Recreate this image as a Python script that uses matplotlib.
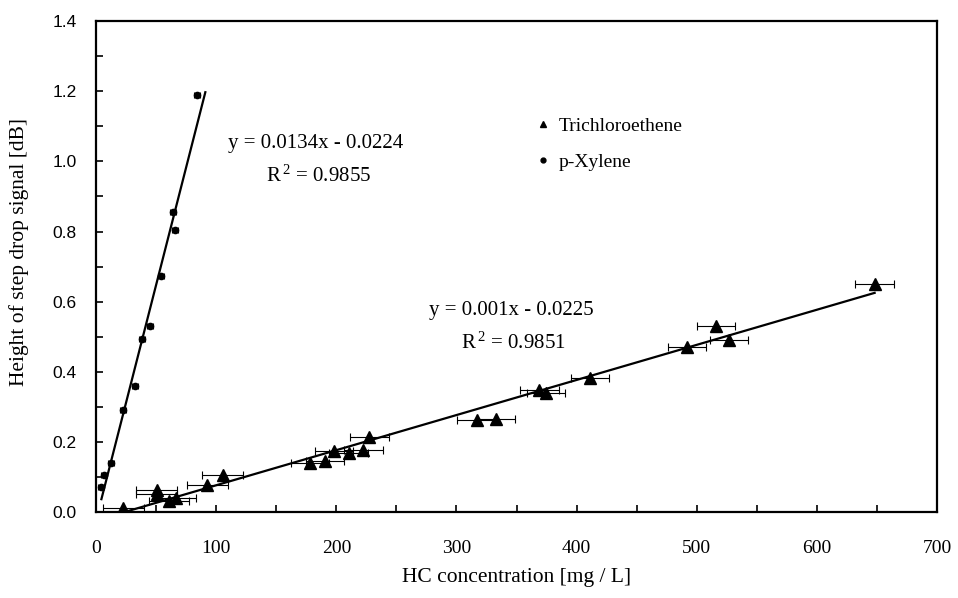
import matplotlib
matplotlib.use('Agg')
import matplotlib.pyplot as plt
import numpy as np
from matplotlib.lines import Line2D
from matplotlib.ticker import MultipleLocator, FuncFormatter

# Trichloroethene (triangles)
tce_x = [22.8, 50.5, 50.5, 60.8, 66.6, 92.7, 105.4, 178, 190.8, 198.3, 210.3,
         222.5, 227.5, 316.8, 332.9, 369, 374.6, 411.2, 492, 516, 527, 648]
tce_y = [0.013, 0.063, 0.052, 0.032, 0.041, 0.079, 0.106, 0.142, 0.146, 0.174, 0.168,
         0.177, 0.215, 0.263, 0.265, 0.348, 0.339, 0.384, 0.470, 0.530, 0.490, 0.652]
tce_xerr = [17, 17, 17, 17, 17, 17, 17, 16, 16, 16, 16,
            16, 16, 16, 16, 16, 16, 16, 16, 16, 16, 16]

# p-Xylene (circles)
px_x = [3.9, 6.7, 12.8, 22.8, 32.5, 38.6, 44.9, 53.8, 64.3, 66.0, 84.3]
px_y = [0.073, 0.106, 0.142, 0.292, 0.360, 0.493, 0.531, 0.674, 0.855, 0.805, 1.190]
px_xerr = [2.5] * len(px_x)

# linear fits as printed on the chart
tce_fit = (0.001, -0.0225, 22.5, 648)
px_fit = (0.0134, -0.0224, 4.5, 91)

serif = ['Liberation Serif', 'DejaVu Serif']
sans = ['Liberation Sans', 'DejaVu Sans']
plt.rcParams['mathtext.fontset'] = 'custom'
plt.rcParams['mathtext.rm'] = 'Liberation Serif'

fig = plt.figure(figsize=(9.58, 5.98), dpi=100)
ax = fig.add_axes([0.1002, 0.143, 0.878, 0.822])

ax.errorbar(tce_x, tce_y, xerr=tce_xerr, fmt='^', color='black', ms=8,
            ecolor='black', elinewidth=0.8, capsize=3, capthick=0.8, zorder=3)
ax.errorbar(px_x, px_y, xerr=px_xerr, fmt='o', color='black', ms=4.5,
            ecolor='black', elinewidth=0.8, capsize=2, capthick=0.8, zorder=3)

for m, b, x0, x1 in (tce_fit, px_fit):
    xs = np.array([x0, x1])
    ax.plot(xs, m * xs + b, color='black', lw=1.6, zorder=2)

ax.text(183, 1.05, 'y = 0.0134x - 0.0224', fontsize=15, family=serif,
        ha='center', va='center')
ax.text(185.6, 0.959, r'$\mathregular{R^{\,2}}$ = 0.9855', fontsize=15, family=serif,
        ha='center', va='center')
ax.text(346, 0.575, 'y = 0.001x - 0.0225', fontsize=15, family=serif,
        ha='center', va='center')
ax.text(347, 0.482, r'$\mathregular{R^{\,2}}$ = 0.9851', fontsize=15, family=serif,
        ha='center', va='center')

handles = [Line2D([], [], ls='none', marker='^', color='black', ms=5),
           Line2D([], [], ls='none', marker='o', color='black', ms=3.5)]
ax.legend(handles, ['Trichloroethene', 'p-Xylene'], loc='center left',
          bbox_to_anchor=(359, 1.05), bbox_transform=ax.transData,
          frameon=False, handlelength=0.6, handletextpad=0.5,
          labelspacing=0.95, borderpad=0, prop={'family': serif, 'size': 14})

ax.set_xlim(0, 700)
ax.set_ylim(0, 1.4)
ax.xaxis.set_major_locator(MultipleLocator(50))
ax.yaxis.set_major_locator(MultipleLocator(0.1))
ax.xaxis.set_major_formatter(FuncFormatter(
    lambda v, p: '%d' % v if round(v) % 100 == 0 else ''))
ax.yaxis.set_major_formatter(FuncFormatter(
    lambda v, p: '%.1f' % v if round(v * 10) % 2 == 0 else ''))
ax.tick_params(direction='in', length=5, width=1.2, top=False, right=False)
ax.tick_params(axis='x', pad=20)
ax.tick_params(axis='y', pad=14)
for lab in ax.get_xticklabels():
    lab.set_family(serif)
    lab.set_fontsize(14)
for lab in ax.get_yticklabels():
    lab.set_family(sans)
    lab.set_fontsize(12.5)
for s in ax.spines.values():
    s.set_linewidth(1.6)

ax.set_xlabel('HC concentration [mg / L]', fontsize=15.5, family=serif, labelpad=8)
ax.set_ylabel('Height of step drop signal [dB]', fontsize=15.5, family=serif)
ax.yaxis.set_label_coords(-0.08, 0.53)

fig.savefig('out.png', dpi=100)
